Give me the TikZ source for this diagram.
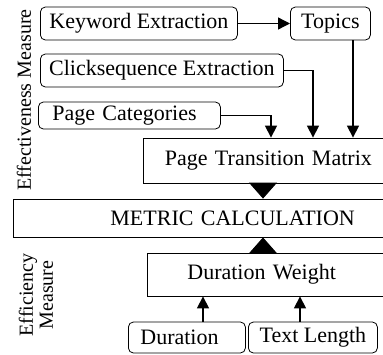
\documentclass[tikz,border=0pt]{standalone}
\usepackage{fontspec}
\setmainfont{Liberation Serif}
\usetikzlibrary{arrows.meta}

\tikzset{
  rbox/.style={draw, rounded corners=5pt, line width=0.8pt, anchor=west, inner ysep=0pt, font=\fontsize{22}{24}\selectfont},
  bigbox/.style={draw, line width=0.8pt, anchor=west, align=left, inner ysep=0pt, font=\fontsize{22}{24}\selectfont},
  arr/.style={line width=1.3pt, -{Triangle[length=12pt,width=12pt]}},
  fatarr/.style={line width=1pt, -{Triangle[length=16pt,width=28pt]}},
  sidelabel/.style={rotate=90, align=center, font=\fontsize{20}{20}\selectfont}
}

\begin{document}
\begin{tikzpicture}[x=1pt,y=-1pt]
\useasboundingbox (0,0) rectangle (383,354);

%side labels
\node[sidelabel] (effect) at (24,100) {Effectiveness Measure};
\node[sidelabel] (effic) at (36,295) {Efficiency\\Measure};

%input boxes
\node[rbox, minimum width=197pt, minimum height=33pt] (kw) at (40,23.5) {Keyword Extraction};
\node[rbox, minimum width=80pt, minimum height=33pt] (topics) at (290,23.5) {Topics};
\node[rbox, minimum width=243pt, minimum height=33pt] (click) at (40,70.5) {Clicksequence Extraction};
\node[rbox, align=left, inner xsep=14pt, text width=154pt, minimum height=27pt] (cat) at (38,115.5) {Page Categories};
\node[rbox, align=left, inner xsep=12pt, text width=93pt, minimum height=31pt] (dur) at (128,337.5) {Duration};
\node[rbox, minimum width=129pt, minimum height=31pt] (tl) at (248,337.5) {Text Length};

%main boxes (cut at right edge)
\node[bigbox, inner xsep=21.5pt, text width=240pt, minimum height=45pt] (ptm) at (143,160.5) {Page Transition Matrix};
\node[bigbox, inner xsep=97pt, text width=300pt, minimum height=38pt] (metric) at (13,218) {METRIC CALCULATION};
\node[bigbox, inner xsep=40pt, text width=200pt, minimum height=43pt] (dw) at (147,274.5) {Duration Weight};

%arrow columns
\coordinate (incat) at ([xshift=128pt]ptm.north west);
\coordinate (inclick) at ([xshift=170pt]ptm.north west);
\coordinate (intopic) at ([xshift=210pt]ptm.north west);
\coordinate (mid) at (263,0);
\coordinate (updur) at (203,0);
\coordinate (uptl) at (300,0);

%arrows
\draw[arr] (kw.east) -- (topics.west);
\draw[arr] (cat.east) -| (incat);
\draw[arr] (click.east) -| (inclick);
\draw[arr] (intopic |- topics.south) -- (intopic);
\draw[fatarr] (mid |- ptm.south) -- (mid |- metric.north);
\draw[fatarr] (mid |- dw.north) -- (mid |- metric.south);
\draw[arr] (updur |- dur.north) -- (updur |- dw.south);
\draw[arr] (uptl |- tl.north) -- (uptl |- dw.south);

\end{tikzpicture}
\end{document}
